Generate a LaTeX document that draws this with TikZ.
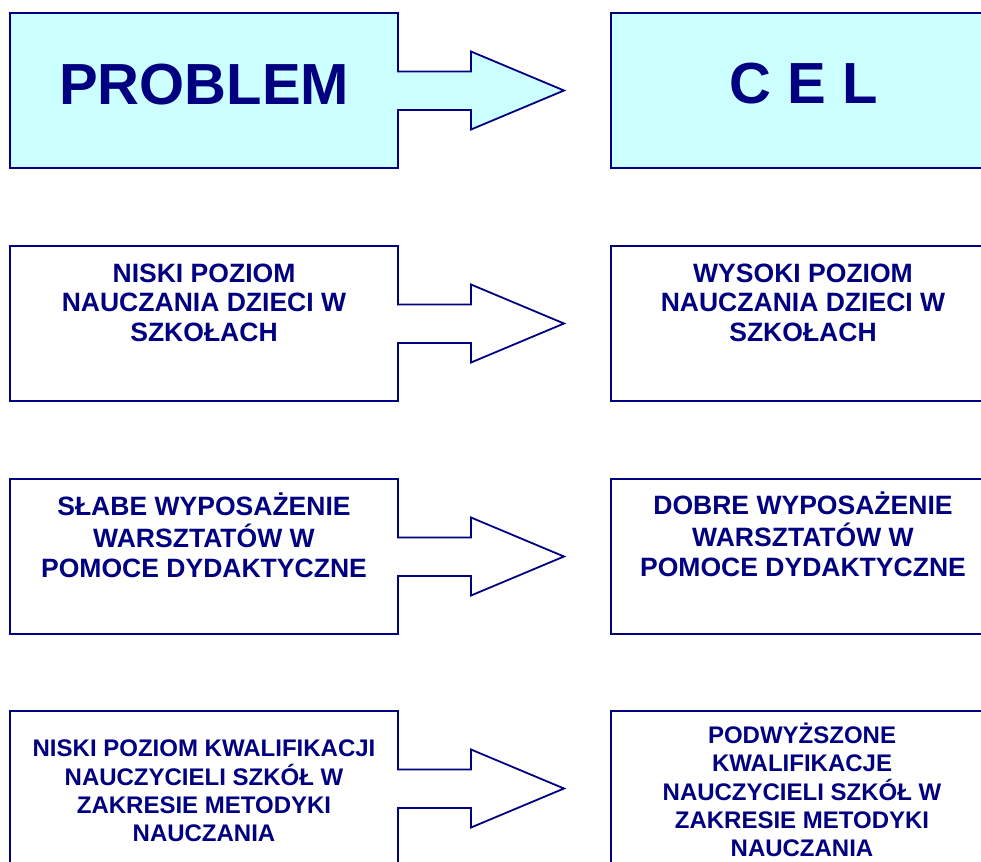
\documentclass[tikz,border=0pt]{standalone}
\usepackage{fontspec}
\setmainfont{Liberation Sans}
\definecolor{navy}{RGB}{0,0,128}
\definecolor{paleaqua}{RGB}{204,255,255}

\begin{document}
\begin{tikzpicture}[x=0.75pt,y=-0.75pt,
  outline/.style={draw=navy,line width=1.35pt,line join=miter},
  boxtext/.style={anchor=base,inner sep=0pt,text=navy},
  bigtext/.style={boxtext,font=\bfseries\fontsize{43.5}{50}\selectfont},
  midtext/.style={boxtext,font=\bfseries\fontsize{19.9}{22.3}\selectfont},
  smalltext/.style={boxtext,font=\bfseries\fontsize{18}{21}\selectfont}]

  % page frame
  \useasboundingbox (0,0) rectangle (981,861);
  \clip (0,0) rectangle (981,861);
  \fill[white] (0,0) rectangle (981,861);

  % problem boxes with their block arrows, and the goal boxes
  \foreach \T/\fc in {13/paleaqua,246/white,479/white,711/white} {
    \draw[outline,fill=\fc]
      (10,\T) -- (398,\T) -- (398,\T+58.5) -- (471,\T+58.5) -- (471,\T+38.5)
      -- (564,\T+77.5) -- (471,\T+116.5) -- (471,\T+97) -- (398,\T+97)
      -- (398,\T+155) -- (10,\T+155) -- cycle;
    \draw[outline,fill=\fc] (611,\T) rectangle (999,\T+155);
  }

  % headings
  \node[bigtext] (p1) at (204,104) {PROBLEM};
  \node[bigtext] (c1) at (803.5,103) {C E L};

  % rows
  \node[midtext] (p2) at (204,282)
    {\begin{tabular}[t]{@{}c@{}}NISKI POZIOM\\NAUCZANIA DZIECI W\\SZKOŁACH\end{tabular}};
  \node[midtext] (c2) at (803,282)
    {\begin{tabular}[t]{@{}c@{}}WYSOKI POZIOM\\NAUCZANIA DZIECI W\\SZKOŁACH\end{tabular}};

  \node[midtext] (p3) at (204,515.5)
    {\begin{tabular}[t]{@{}c@{}}SŁABE WYPOSAŻENIE\\WARSZTATÓW W\\POMOCE DYDAKTYCZNE\end{tabular}};
  \node[midtext] (c3) at (803,514.5)
    {\begin{tabular}[t]{@{}c@{}}DOBRE WYPOSAŻENIE\\WARSZTATÓW W\\POMOCE DYDAKTYCZNE\end{tabular}};

  \node[smalltext] (p4) at (204,756)
    {\begin{tabular}[t]{@{}c@{}}NISKI POZIOM KWALIFIKACJI\\NAUCZYCIELI SZKÓŁ W\\ZAKRESIE METODYKI\\NAUCZANIA\end{tabular}};
  \node[smalltext] (c4) at (802,743)
    {\begin{tabular}[t]{@{}c@{}}PODWYŻSZONE\\KWALIFIKACJE\\NAUCZYCIELI SZKÓŁ W\\ZAKRESIE METODYKI\\NAUCZANIA\end{tabular}};
\end{tikzpicture}
\end{document}
